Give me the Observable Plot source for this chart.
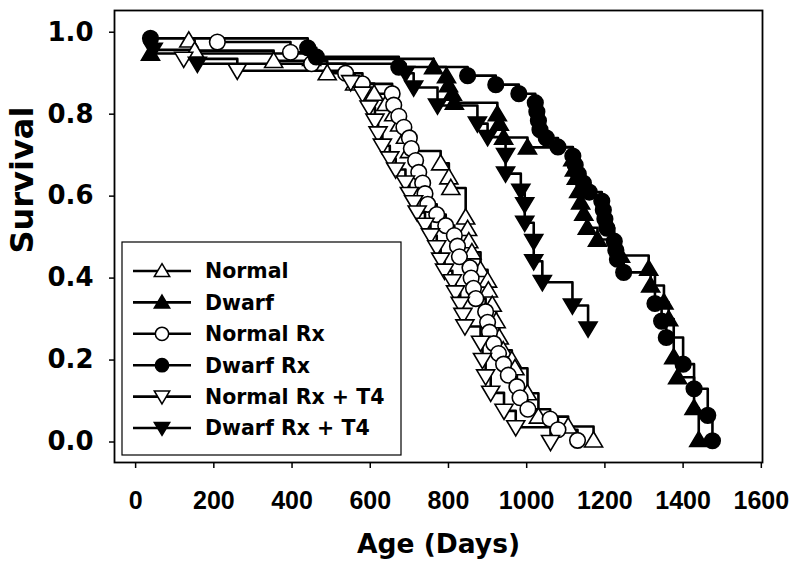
<!DOCTYPE html>
<html><head><meta charset="utf-8">
<script src="https://cdn.jsdelivr.net/npm/d3@7"></script>
<script src="https://cdn.jsdelivr.net/npm/@observablehq/plot@0.6"></script>
<style>
html,body{margin:0;padding:0;background:#fff;}
#chart{position:relative;width:800px;height:578px;}
</style></head><body><div id="chart"></div>
<script>
// ---- data: [age in days, survival] at each step ----
const seriesNames = ["Normal", "Dwarf", "Normal Rx", "Dwarf Rx", "Normal Rx + T4", "Dwarf Rx + T4"];

const normal = [[136,0.98],[151,0.955],[353,0.93],[490,0.9],[560,0.875],[610,0.85],[640,0.825],[660,0.8],[675,0.775],[690,0.745],[700,0.71],[780,0.68],[801,0.646],[806,0.62],[844,0.548],[849,0.52],[852,0.49],[860,0.463],[882,0.42],[900,0.394],[902,0.37],[912,0.335],[922,0.295],[930,0.255],[940,0.224],[962,0.2],[970,0.18],[1002,0.119],[1030,0.062],[1106,0.038],[1171,0.004]];

const dwarf = [[38,0.948],[450,0.935],[762,0.915],[795,0.893],[800,0.871],[810,0.85],[815,0.828],[925,0.8],[930,0.777],[941,0.743],[1002,0.719],[1118,0.69],[1122,0.665],[1127,0.645],[1133,0.613],[1138,0.585],[1146,0.557],[1155,0.523],[1181,0.494],[1240,0.455],[1312,0.423],[1317,0.382],[1351,0.341],[1363,0.3],[1376,0.207],[1386,0.158],[1428,0.083],[1440,0.005]];

const normalRx = [[209,0.976],[396,0.951],[450,0.923],[537,0.9],[580,0.874],[656,0.85],[660,0.822],[673,0.795],[686,0.768],[700,0.742],[705,0.716],[716,0.687],[724,0.658],[734,0.632],[740,0.606],[747,0.58],[770,0.555],[793,0.528],[815,0.504],[823,0.478],[828,0.452],[855,0.425],[858,0.4],[864,0.375],[870,0.35],[895,0.318],[900,0.292],[905,0.268],[916,0.24],[928,0.216],[941,0.19],[953,0.163],[975,0.135],[983,0.108],[1003,0.08],[1060,0.056],[1080,0.03],[1130,0.004]];

const dwarfRx = [[38,0.985],[440,0.962],[462,0.94],[673,0.915],[849,0.894],[921,0.872],[980,0.85],[1022,0.828],[1026,0.806],[1030,0.784],[1034,0.762],[1050,0.742],[1080,0.72],[1118,0.698],[1124,0.676],[1132,0.654],[1145,0.632],[1160,0.61],[1192,0.588],[1196,0.566],[1200,0.544],[1205,0.522],[1224,0.49],[1228,0.468],[1232,0.446],[1248,0.414],[1328,0.338],[1345,0.295],[1357,0.255],[1400,0.19],[1428,0.13],[1463,0.065],[1475,0.003]];

const normalRxT4 = [[123,0.935],[260,0.906],[550,0.878],[580,0.85],[597,0.816],[612,0.784],[620,0.753],[631,0.723],[650,0.692],[665,0.665],[690,0.633],[700,0.605],[711,0.585],[720,0.56],[740,0.53],[754,0.504],[770,0.475],[780,0.445],[790,0.418],[810,0.392],[818,0.365],[830,0.337],[837,0.31],[842,0.282],[882,0.242],[887,0.2],[895,0.16],[908,0.12],[942,0.076],[972,0.036],[1061,0.0]];

const dwarfRxT4 = [[45,0.957],[158,0.923],[690,0.9],[711,0.865],[772,0.821],[874,0.777],[900,0.744],[946,0.70],[946,0.655],[985,0.613],[995,0.58],[995,0.535],[1018,0.49],[1018,0.441],[1040,0.39],[1117,0.333],[1157,0.277]];

const xTicks = [0, 200, 400, 600, 800, 1000, 1200, 1400, 1600];
const yTicks = [0.0, 0.2, 0.4, 0.6, 0.8, 1.0];
const xLabel = "Age (Days)";
const yLabel = "Survival";

// ---- symbols ----
const triUp = {draw(ctx, size) { const r = Math.sqrt(size / Math.PI);
  ctx.moveTo(0, -r * 1.05); ctx.lineTo(r * 1.1, r * 0.8); ctx.lineTo(-r * 1.1, r * 0.8); ctx.closePath(); }};
const triDown = {draw(ctx, size) { const r = Math.sqrt(size / Math.PI);
  ctx.moveTo(0, r * 1.05); ctx.lineTo(r * 1.1, -r * 0.8); ctx.lineTo(-r * 1.1, -r * 0.8); ctx.closePath(); }};
const circ = {draw(ctx, size) { const r = Math.sqrt(size / Math.PI) * 0.95;
  ctx.moveTo(r, 0); ctx.arc(0, 0, r, 0, 2 * Math.PI); }};

const series = [
  {name: seriesNames[0], data: normal, symbol: triUp, fill: "white"},
  {name: seriesNames[1], data: dwarf, symbol: triUp, fill: "black"},
  {name: seriesNames[2], data: normalRx, symbol: circ, fill: "white"},
  {name: seriesNames[3], data: dwarfRx, symbol: circ, fill: "black"},
  {name: seriesNames[4], data: normalRxT4, symbol: triDown, fill: "white"},
  {name: seriesNames[5], data: dwarfRxT4, symbol: triDown, fill: "black"}
];
const R = 8.2;
const font = "'DejaVu Sans', sans-serif";

const marks = [];
for (const s of series) {
  const rows = s.data.map(([day, surv]) => ({day, surv}));
  marks.push(Plot.line(rows, {x: "day", y: "surv", curve: "step-after", stroke: "black", strokeWidth: 2.6}));
}
for (const s of series) {
  const rows = s.data.map(([day, surv]) => ({day, surv}));
  marks.push(Plot.dot(rows, {x: "day", y: "surv", symbol: s.symbol, r: R, fill: s.fill, stroke: "black", strokeWidth: 1.6}));
}

const chart = Plot.plot({
  width: 800, height: 578,
  marginTop: 10, marginRight: 38, marginBottom: 116, marginLeft: 114,
  style: {fontFamily: font, fontWeight: "bold", color: "black", background: "white"},
  x: {domain: [-54, 1603]},
  y: {domain: [-0.05, 1.053]},
  marks: [
    Plot.axisX({ticks: xTicks, tickSize: 6, tickPadding: 23, tickFormat: d3.format("d"), label: null,
      fontSize: 25, fontFamily: "'Liberation Sans', Arial, sans-serif", fontWeight: "bold", strokeWidth: 1.5}),
    Plot.axisY({ticks: yTicks, tickSize: 5, tickPadding: 16, tickFormat: d3.format(".1f"), label: null,
      fontSize: 26, fontFamily: font, fontWeight: "bold", strokeWidth: 1.5}),
    Plot.text([xLabel], {text: d => d, frameAnchor: "bottom", dy: 90, fontSize: 26.5, fontFamily: font, fontWeight: "bold"}),
    Plot.text([yLabel], {text: d => d, frameAnchor: "left", dx: -92, dy: 17, rotate: -90, fontSize: 32, fontFamily: font, fontWeight: "bold"}),
    Plot.frame({stroke: "black", strokeWidth: 1.8}),
    ...marks
  ]
});
document.getElementById("chart").appendChild(chart);

// ---- legend (drawn inside the SVG) ----
const svg = d3.select(chart);
const lg = svg.append("g").attr("text-anchor", "start");
lg.append("rect").attr("x", 122).attr("y", 242).attr("width", 279).attr("height", 213)
  .attr("fill", "white").attr("stroke", "black").attr("stroke-width", 1.2);
series.forEach((s, i) => {
  const y = 271 + i * 31.4;
  lg.append("line").attr("x1", 133).attr("x2", 191).attr("y1", y).attr("y2", y)
    .attr("stroke", "black").attr("stroke-width", 2.6);
  lg.append("path").attr("transform", `translate(162,${y})`)
    .attr("d", d3.symbol(s.symbol, Math.PI * 7 * 7)())
    .attr("fill", s.fill).attr("stroke", "black").attr("stroke-width", 1.5);
  lg.append("text").attr("x", 205).attr("y", y).attr("dy", "0.36em")
    .attr("text-anchor", "start")
    .attr("font-family", font).attr("font-weight", "bold").attr("font-size", 20.5)
    .attr("fill", "black").text(s.name);
});
</script></body></html>
